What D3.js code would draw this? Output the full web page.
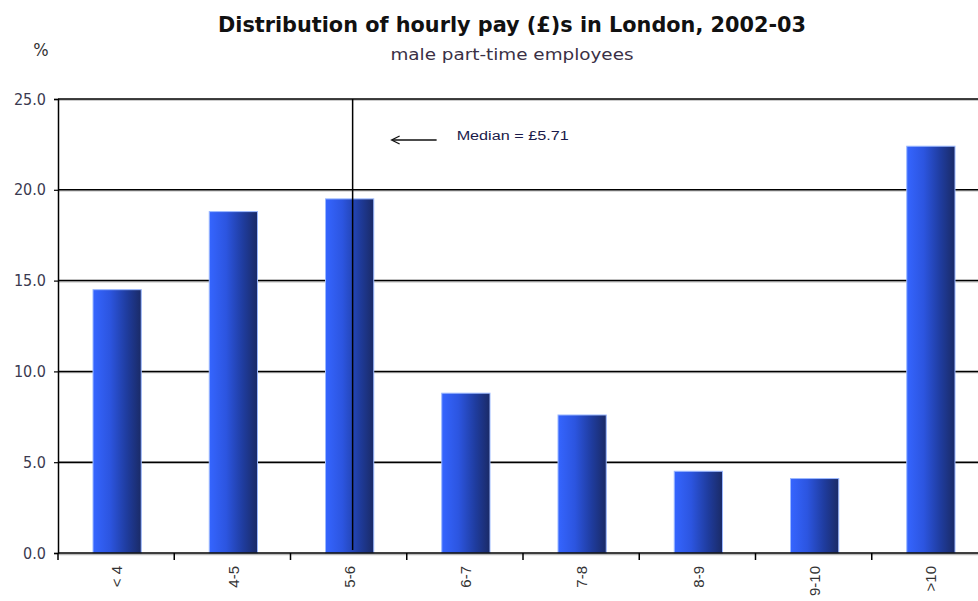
<!DOCTYPE html>
<html><head><meta charset="utf-8">
<script src="https://cdn.jsdelivr.net/npm/d3@7/dist/d3.min.js"></script>
<style>body{margin:0;background:#fff;}svg{display:block;}</style>
</head><body>
<svg id="c" width="978" height="601"></svg>
<script>
const categories = ["< 4","4-5","5-6","6-7","7-8","8-9","9-10",">10"];
const values = [14.5,18.8,19.5,8.8,7.6,4.5,4.1,22.4];
const yTicks = [0,5,10,15,20,25];
const medianCategory = "5-6";
const medianLabel = "Median = £5.71";
const titleText = "Distribution of hourly pay (£)s in London, 2002-03";
const subtitleText = "male part-time employees";

const svg = d3.select("#c");
const m = {left:58, top:99, right:-10, bottom:48};
const W = 978, H = 601;
const x = d3.scaleBand().domain(categories).range([m.left, W - m.right]).paddingInner(0.585).paddingOuter(0.2925);
const xb = d3.scaleBand().domain(categories).range([m.left, W - m.right]);
const y = d3.scaleLinear().domain([0,25]).range([H - m.bottom, m.top]);

const defs = svg.append("defs");
const g = defs.append("linearGradient").attr("id","bg").attr("x1","0").attr("x2","1").attr("y1","0").attr("y2","0");
g.append("stop").attr("offset","0").attr("stop-color","#3565ff");
g.append("stop").attr("offset","0.35").attr("stop-color","#2c55e0");
g.append("stop").attr("offset","0.7").attr("stop-color","#1f3c9e");
g.append("stop").attr("offset","1").attr("stop-color","#1a2a66");

// gridlines
svg.append("g").selectAll("line").data(yTicks.filter(d=>d>0)).join("line")
  .attr("x1", m.left).attr("x2", W).attr("y1", d=>y(d)+1.2).attr("y2", d=>y(d)+1.2)
  .attr("stroke","#bbb").attr("stroke-width",1.2);
svg.append("g").selectAll("line").data(yTicks.filter(d=>d>0)).join("line")
  .attr("x1", m.left).attr("x2", W).attr("y1", d=>y(d)).attr("y2", d=>y(d))
  .attr("stroke","#000").attr("stroke-width",1.5);

// bars
svg.append("g").selectAll("rect").data(values).join("rect")
  .attr("x",(d,i)=>x(categories[i])+1).attr("width", x.bandwidth())
  .attr("y", d=>y(d)).attr("height", d=>y(0)-y(d))
  .attr("fill","url(#bg)").attr("stroke","#9bb8ff").attr("stroke-width",1);

// median line
const mx = xb(medianCategory) + xb.bandwidth()/2 + 4;
svg.append("line").attr("x1",mx).attr("x2",mx).attr("y1",y(25)).attr("y2",y(0)-3)
  .attr("stroke","#000").attr("stroke-width",1.5);

// arrow + label
const ay = y(25) + 41;
svg.append("line").attr("x1", mx+84).attr("x2", mx+40).attr("y1", ay).attr("y2", ay).attr("stroke","#111").attr("stroke-width",1.3);
svg.append("path").attr("d", `M${mx+47},${ay-4} L${mx+39},${ay} L${mx+47},${ay+4}`).attr("fill","none").attr("stroke","#111").attr("stroke-width",1.3);
svg.append("text").attr("x", mx+104).attr("y", ay).attr("font-family","Liberation Sans, Arial, sans-serif")
  .attr("font-size",12).attr("fill","#1a1a4a").attr("textLength",112).attr("lengthAdjust","spacingAndGlyphs").text(medianLabel);

// y axis
const yAxis = d3.axisLeft(y).tickValues(yTicks).tickFormat(d3.format(".1f")).tickSize(4);
const ya = svg.append("g").attr("transform",`translate(${m.left},0)`).call(yAxis);
ya.select(".domain").attr("stroke","#000").attr("stroke-width",1.5);
ya.selectAll(".tick line").attr("stroke","#000").attr("stroke-width",1.2);
ya.selectAll(".tick text").attr("font-family","DejaVu Sans Condensed, sans-serif").attr("font-size",16).attr("fill","#3a3a50").attr("x",-12);

// x axis
svg.append("line").attr("x1",m.left).attr("x2",W).attr("y1",y(0)+1.5).attr("y2",y(0)+1.5).attr("stroke","#bbb").attr("stroke-width",1.5);
svg.append("line").attr("x1",m.left).attr("x2",W).attr("y1",y(0)).attr("y2",y(0)).attr("stroke","#000").attr("stroke-width",1.5);
svg.append("g").selectAll("line").data(categories).join("line")
  .attr("x1",d=>xb(d)).attr("x2",d=>xb(d)).attr("y1",y(0)).attr("y2",y(0)+7)
  .attr("stroke","#000").attr("stroke-width",1.5);
svg.append("g").selectAll("text").data(categories).join("text")
  .attr("transform",d=>`translate(${xb(d)+xb.bandwidth()/2+1},${y(0)+13}) rotate(-90)`)
  .attr("text-anchor","end").attr("dy","0.35em")
  .attr("font-family","Liberation Sans, Arial, sans-serif").attr("font-size",15).attr("fill","#333")
  .text(d=>d);

// titles
svg.append("text").attr("x",512).attr("y",32).attr("text-anchor","middle")
  .attr("font-family","DejaVu Sans Condensed, sans-serif").attr("font-weight","bold").attr("font-size",22)
  .attr("textLength",588).attr("lengthAdjust","spacingAndGlyphs")
  .attr("fill","#111").text(titleText);
svg.append("text").attr("x",512).attr("y",60).attr("text-anchor","middle")
  .attr("font-family","DejaVu Sans Condensed, sans-serif").attr("font-size",16)
  .attr("textLength",243).attr("lengthAdjust","spacingAndGlyphs")
  .attr("fill","#3a3045").text(subtitleText);
svg.append("text").attr("x",41).attr("y",56).attr("text-anchor","middle")
  .attr("font-family","DejaVu Sans Condensed, sans-serif").attr("font-size",18)
  .attr("fill","#333").text("%");
</script>
</body></html>
